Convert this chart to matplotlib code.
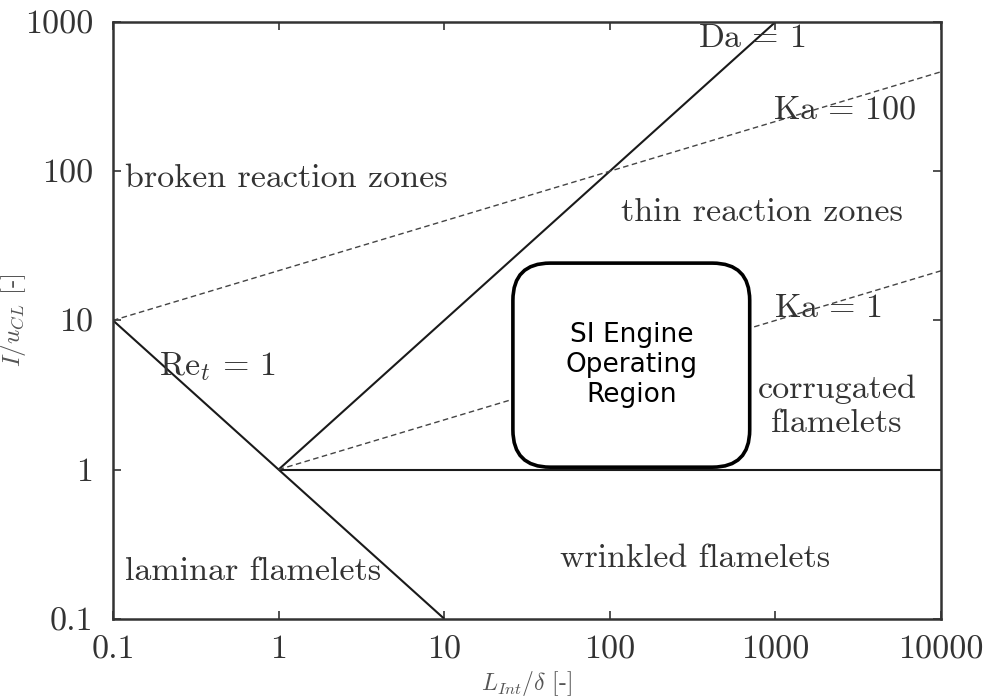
"""
Borghi regime diagram for premixed turbulent combustion,
with the typical spark-ignition engine operating window marked.
"""

import matplotlib
matplotlib.use('Agg')
import matplotlib.pyplot as plt
from matplotlib.patches import FancyBboxPatch

plt.rcParams['font.family'] = 'cmr10'
plt.rcParams['mathtext.fontset'] = 'cm'
plt.rcParams['axes.formatter.use_mathtext'] = True

# ============================================================
# REGIME BOUNDARIES (L/delta, u'/sL)
# ============================================================
re_x, re_y = [0.1, 10], [10, 0.1]            # Re_t = 1
da_x, da_y = [1, 1000], [1, 1000]            # Da = 1
ka100_x, ka100_y = [0.1, 10000], [10, 464]   # Ka = 100
ka1_x, ka1_y = [1, 10000], [1, 21.5]         # Ka = 1
flat_x, flat_y = [1, 10000], [1, 1]          # u'/sL = 1

x_ticks = [0.1, 1, 10, 100, 1000, 10000]
x_labels = ['0.1', '1', '10', '100', '1000', '10000']
y_ticks = [0.1, 1, 10, 100, 1000]
y_labels = ['0.1', '1', '10', '100', '1000']

regime_labels = [
    ('broken reaction zones', 0.118, 90, 'left'),
    ('thin reaction zones', 830, 53, 'center'),
    ('corrugated\nflamelets', 2355, 2.67, 'center'),
    ('wrinkled flamelets', 327, 0.255, 'center'),
    ('laminar flamelets', 0.118, 0.206, 'left'),
]
line_labels = [
    (r'$\mathrm{Da}\,=\,1$', 723, 780),
    (r'$\mathrm{Ka}\,=\,100$', 2630, 257),
    (r'$\mathrm{Ka}\,=\,1$', 2080, 12.1),
    (r'$\mathrm{Re}_t\,=\,1$', 0.43, 4.87),
]

# ============================================================
# FIGURE
# ============================================================
fig = plt.figure(figsize=(9.85, 7.0), dpi=100)
ax = fig.add_axes([0.1147, 0.1161, 0.8406, 0.8524])
ax.set_xscale('log')
ax.set_yscale('log')
ax.set_xlim(0.1, 10000)
ax.set_ylim(0.1, 1000)

solid = dict(color='#1a1a1a', lw=1.5, solid_capstyle='butt')
dashed = dict(color='#444444', lw=1.0, dashes=(4, 2.5))

ax.plot(re_x, re_y, **solid)
ax.plot(da_x, da_y, **solid)
ax.plot(flat_x, flat_y, **solid)
ax.plot(ka100_x, ka100_y, **dashed)
ax.plot(ka1_x, ka1_y, **dashed)

FS = 24.5
for txt, x, y, ha in regime_labels:
    ax.text(x, y, txt, fontsize=FS, color='#333333', ha=ha, va='center',
            linespacing=1.2)
for txt, x, y in line_labels:
    ax.text(x, y, txt, fontsize=FS, color='#333333', ha='center', va='center')

# SI engine window
box = FancyBboxPatch((0.483, 0.254), 0.286, 0.342,
                     boxstyle='round,pad=0,rounding_size=0.045',
                     transform=ax.transAxes, facecolor='white',
                     edgecolor='black', lw=2.6, zorder=5,
                     mutation_aspect=0.8406 * 9.85 / (0.8524 * 7.0))
ax.add_patch(box)
ax.text(0.626, 0.425, 'SI Engine\nOperating\nRegion', transform=ax.transAxes,
        family='DejaVu Sans', fontsize=19, ha='center', va='center',
        linespacing=1.2, zorder=6)

ax.set_xticks(x_ticks)
ax.set_xticklabels(x_labels)
ax.set_yticks(y_ticks)
ax.set_yticklabels(y_labels)
ax.minorticks_off()
ax.tick_params(which='major', direction='in', length=6, width=1.2,
               top=True, right=True, labelsize=FS, labelcolor='#333333',
               color='#333333')
ax.tick_params(axis='x', pad=12)
ax.tick_params(axis='y', pad=14)
for sp in ax.spines.values():
    sp.set_linewidth(1.8)
    sp.set_color('#333333')

ax.set_xlabel(r'$L_{Int}/\delta$ [-]', fontsize=17, color='#555555',
              labelpad=3)
ax.set_ylabel(r'$I/u_{CL}$ [-]', fontsize=18, color='#555555')
ax.yaxis.set_label_coords(-0.103, 0.5)

fig.savefig('out.png', dpi=100)
plt.close(fig)
